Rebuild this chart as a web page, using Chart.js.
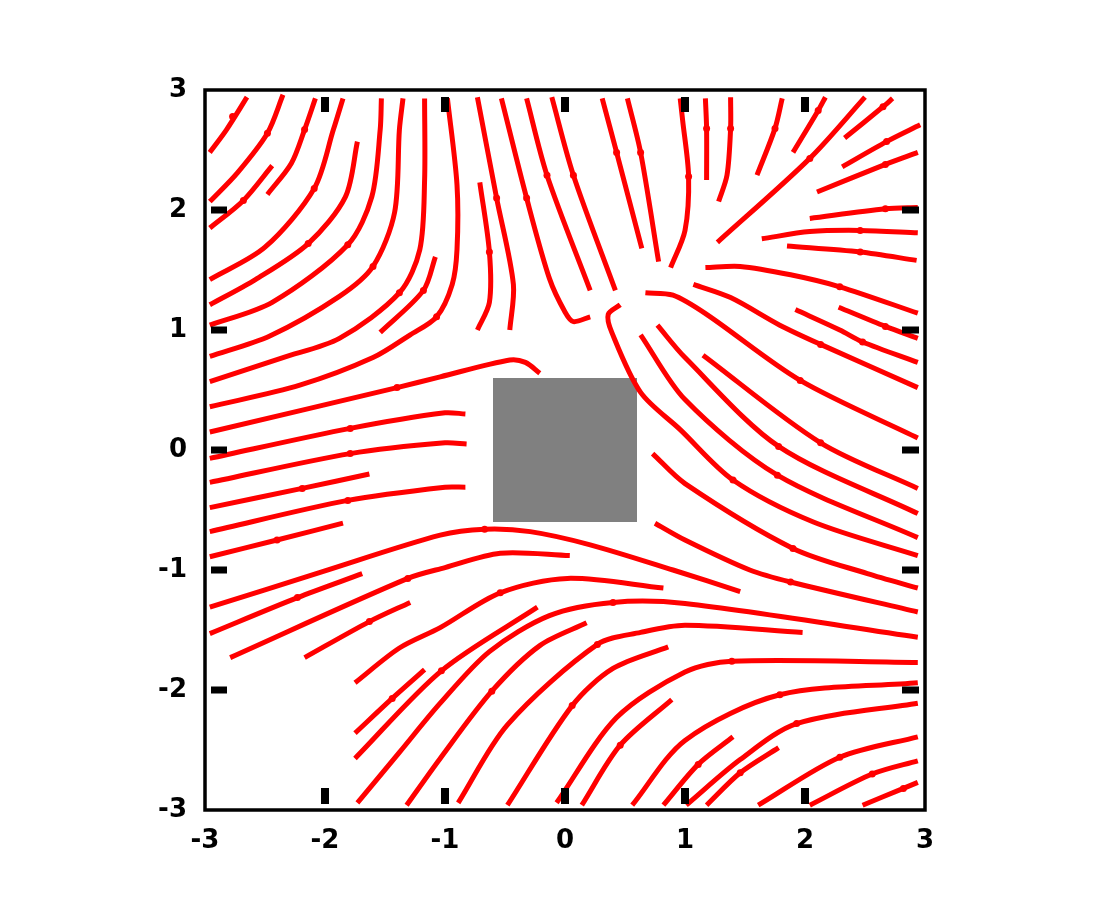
<!DOCTYPE html>
<html>
<head>
<meta charset="utf-8">
<script src="https://cdn.jsdelivr.net/npm/chart.js@4/dist/chart.umd.min.js"></script>
<style>
  body { margin: 0; background: #fff; }
  #wrap { width: 1100px; height: 900px; }
</style>
</head>
<body>
<div id="wrap"><canvas id="flow"></canvas></div>
<script>
// axis ticks
const tickValues = [-3, -2, -1, 0, 1, 2, 3];
const tickLabels = ['-3', '-2', '-1', '0', '1', '2', '3'];
const innerTicks = [-2, -1, 0, 1, 2];

// gray obstacle: xmin, xmax, ymin, ymax
const obstacle = [-0.6, 0.6, -0.6, 0.6];

// streamlines, each one a flat list x1,y1,x2,y2,...
const streamlines = [
  [-2.96,2.48, -2.82,2.67, -2.65,2.94],
  [-2.96,2.07, -2.73,2.31, -2.48,2.64, -2.35,2.96],
  [-2.96,1.85, -2.68,2.08, -2.44,2.37],
  [-2.48,2.13, -2.28,2.39, -2.17,2.67, -2.08,2.93],
  [-2.96,1.42, -2.5,1.69, -2.09,2.18, -1.93,2.67, -1.85,2.93],
  [-2.96,1.21, -2.58,1.42, -2.14,1.72, -1.83,2.11, -1.73,2.57],
  [-2.96,1.04, -2.44,1.23, -1.81,1.71, -1.61,2.11, -1.54,2.67, -1.53,2.93],
  [-2.96,0.78, -2.46,0.95, -1.88,1.28, -1.6,1.53, -1.42,1.98, -1.38,2.67, -1.35,2.93],
  [-2.96,0.57, -2.35,0.77, -1.88,0.93, -1.38,1.31, -1.21,1.67, -1.17,2.25, -1.17,2.93],
  [-1.54,0.98, -1.18,1.33, -1.08,1.61],
  [-2.96,0.36, -2.21,0.54, -1.6,0.77, -1.29,0.96, -1.07,1.11, -0.94,1.38, -0.9,1.67, -0.9,2.21, -0.98,2.93],
  [-2.96,0.15, -1.4,0.52, -1.04,0.61, -0.46,0.75, -0.33,0.73, -0.21,0.64],
  [-2.96,-0.07, -1.79,0.18, -1.0,0.31, -0.83,0.3],
  [-2.96,-0.27, -1.79,-0.03, -1.0,0.06, -0.82,0.05],
  [-2.96,-0.48, -2.19,-0.32, -1.63,-0.2],
  [-2.96,-0.68, -1.81,-0.42, -1.0,-0.31, -0.83,-0.31],
  [-2.96,-0.89, -2.4,-0.75, -1.85,-0.61],
  [-2.96,-1.31, -2.04,-1.02, -1.04,-0.71, -0.67,-0.66, -0.29,-0.68, 0.21,-0.79, 0.9,-1.0, 1.46,-1.18],
  [-2.96,-1.53, -2.23,-1.23, -1.69,-1.03],
  [-2.79,-1.73, -1.31,-1.07, -1.0,-0.98, -0.54,-0.86, 0.04,-0.88],
  [-2.17,-1.73, -1.63,-1.43, -1.29,-1.27],
  [-1.75,-1.94, -1.38,-1.65, -1.04,-1.48, -0.54,-1.19, 0.02,-1.07, 0.82,-1.15],
  [-1.75,-2.36, -1.44,-2.07, -1.17,-1.83],
  [-1.75,-2.57, -1.03,-1.84, -0.23,-1.31],
  [-1.73,-2.94, -1.38,-2.52, -1.04,-2.11, -0.63,-1.68, -0.13,-1.38, 0.4,-1.27, 1.0,-1.28, 2.94,-1.56],
  [-1.32,-2.96, -1.04,-2.57, -0.61,-2.01, -0.21,-1.63, 0.18,-1.44],
  [-0.89,-2.94, -0.48,-2.29, 0.27,-1.62, 0.63,-1.52, 1.0,-1.46, 1.98,-1.52],
  [-0.48,-2.96, 0.06,-2.13, 0.4,-1.82, 0.86,-1.64],
  [-0.07,-2.94, 0.43,-2.23, 1.0,-1.85, 1.39,-1.76, 2.94,-1.77],
  [0.14,-2.96, 0.46,-2.46, 0.89,-2.08],
  [0.56,-2.96, 1.0,-2.42, 1.79,-2.04, 2.94,-1.94],
  [0.82,-2.96, 1.11,-2.62, 1.4,-2.39],
  [1.01,-2.96, 1.46,-2.58, 1.93,-2.28, 2.94,-2.11],
  [1.18,-2.96, 1.46,-2.69, 1.78,-2.48],
  [1.61,-2.96, 2.29,-2.56, 2.94,-2.39],
  [2.04,-2.96, 2.56,-2.7, 2.94,-2.59],
  [2.48,-2.96, 2.82,-2.82, 2.94,-2.77],
  [0.75,-0.61, 1.0,-0.75, 1.54,-1.0, 1.88,-1.1, 2.94,-1.35],
  [0.73,-0.03, 1.0,-0.28, 1.9,-0.82, 2.52,-1.03, 2.94,-1.15],
  [0.46,1.21, 0.36,1.13, 0.39,0.98, 0.63,0.48, 0.96,0.17, 1.4,-0.25, 2.07,-0.6, 2.94,-0.88],
  [0.63,0.96, 1.0,0.42, 1.77,-0.21, 2.94,-0.73],
  [0.77,1.04, 1.0,0.77, 1.78,0.03, 2.94,-0.53],
  [1.15,0.79, 2.13,0.06, 2.94,-0.32],
  [0.67,1.31, 0.9,1.29, 1.18,1.13, 1.96,0.58, 2.94,0.1],
  [1.07,1.38, 1.38,1.27, 1.79,1.04, 2.13,0.88, 2.94,0.52],
  [1.92,1.17, 2.29,1.0, 2.48,0.9, 2.94,0.73],
  [2.28,1.19, 2.67,1.03, 2.94,0.93],
  [1.17,1.52, 1.46,1.53, 1.88,1.46, 2.29,1.36, 2.94,1.14],
  [1.85,1.7, 2.46,1.65, 2.93,1.58],
  [1.64,1.76, 2.04,1.82, 2.46,1.83, 2.94,1.81],
  [2.04,1.93, 2.67,2.01, 2.94,2.02],
  [2.1,2.15, 2.67,2.38, 2.94,2.48],
  [2.31,2.36, 2.68,2.57, 2.96,2.71],
  [2.33,2.6, 2.65,2.86, 2.73,2.93],
  [1.27,1.73, 2.04,2.43, 2.5,2.94],
  [1.9,2.48, 2.11,2.83, 2.17,2.94],
  [1.6,2.29, 1.75,2.68, 1.81,2.93],
  [1.28,2.07, 1.35,2.29, 1.38,2.68, 1.38,2.94],
  [1.17,2.93, 1.18,2.68, 1.18,2.25],
  [0.96,2.93, 0.98,2.75, 1.03,2.28, 1.0,1.83, 0.88,1.52],
  [0.52,2.93, 0.63,2.48, 0.78,1.57],
  [0.31,2.93, 0.43,2.48, 0.64,1.68],
  [-0.11,2.94, 0.07,2.29, 0.42,1.33],
  [-0.32,2.93, -0.15,2.29, 0.21,1.33],
  [-0.53,2.93, -0.32,2.1, -0.13,1.43, 0.0,1.15, 0.07,1.07, 0.21,1.11],
  [-0.73,2.94, -0.57,2.1, -0.43,1.38, -0.46,1.0],
  [-0.71,2.23, -0.63,1.65, -0.63,1.23, -0.73,1.0]
];

// small arrow marks along the lines, flat x,y pairs
const arrowMarks = [
  -2.77,2.78, -2.48,2.64, -2.68,2.08, -2.17,2.67, -2.09,2.18, -2.14,1.72, -1.81,1.71,
  -1.6,1.53, -1.38,1.31, -1.18,1.33, -1.07,1.11, -1.4,0.52, -1.79,0.18, -1.79,-0.03,
  -2.19,-0.32, -1.81,-0.42, -2.4,-0.75, -0.67,-0.66, -2.23,-1.23, -1.31,-1.07,
  -1.63,-1.43, -0.54,-1.19, -1.44,-2.07, -1.03,-1.84, 0.4,-1.27, -0.61,-2.01,
  0.27,-1.62, 0.06,-2.13, 1.39,-1.76, 0.46,-2.46, 1.79,-2.04, 1.11,-2.62, 1.93,-2.28,
  1.46,-2.69, 2.29,-2.56, 2.56,-2.7, 2.82,-2.82,
  1.88,-1.1, 1.9,-0.82, 1.4,-0.25, 1.77,-0.21, 1.78,0.03, 2.13,0.06, 1.96,0.58,
  2.13,0.88, 2.48,0.9, 2.67,1.03, 2.29,1.36, 2.46,1.65, 2.46,1.83, 2.67,2.01,
  2.67,2.38, 2.68,2.57, 2.65,2.86, 2.04,2.43, 2.11,2.83, 1.75,2.68, 1.38,2.68,
  1.18,2.68, 1.03,2.28, 0.63,2.48, 0.43,2.48, 0.07,2.29, -0.15,2.29, -0.32,2.1,
  -0.57,2.1, -0.63,1.65
];

function toPoints(flat) {
  const pts = [];
  for (let i = 0; i < flat.length; i += 2) {
    pts.push({x: flat[i], y: flat[i + 1]});
  }
  return pts;
}

const datasets = streamlines.map(function (line) {
  return {
    data: toPoints(line),
    showLine: true,
    borderColor: '#ff0000',
    borderWidth: 5,
    borderCapStyle: 'butt',
    pointRadius: 0,
    tension: 0.3
  };
});
datasets.push({
  data: toPoints(arrowMarks),
  showLine: false,
  pointRadius: 3.5,
  pointBackgroundColor: '#ff0000',
  pointBorderWidth: 0
});

const frameAndTicks = {
  id: 'frameAndTicks',
  beforeDatasetsDraw(chart) {
    const {ctx, scales: {x, y}} = chart;
    const x0 = x.getPixelForValue(obstacle[0]);
    const x1 = x.getPixelForValue(obstacle[1]);
    const y0 = y.getPixelForValue(obstacle[3]);
    const y1 = y.getPixelForValue(obstacle[2]);
    ctx.save();
    ctx.fillStyle = '#808080';
    ctx.fillRect(x0, y0, x1 - x0, y1 - y0);
    ctx.restore();
  },
  afterDatasetsDraw(chart) {
    const {ctx, chartArea: a, scales: {x, y}} = chart;
    ctx.save();
    ctx.fillStyle = '#000';
    innerTicks.forEach(function (v) {
      const px = x.getPixelForValue(v);
      ctx.fillRect(px - 4, a.top + 7, 8, 15);
      ctx.fillRect(px - 4, a.bottom - 22, 8, 16);
      const py = y.getPixelForValue(v);
      ctx.fillRect(a.left + 6, py - 3.5, 16, 7);
      ctx.fillRect(a.right - 23, py - 3.5, 17, 7);
    });
    ctx.strokeStyle = '#000';
    ctx.lineWidth = 3.5;
    ctx.strokeRect(a.left, a.top, a.right - a.left, a.bottom - a.top);
    ctx.restore();
  }
};

const tickFont = {family: '"DejaVu Sans"', size: 26, weight: 'bold'};

new Chart(document.getElementById('flow'), {
  type: 'scatter',
  data: {datasets: datasets},
  options: {
    responsive: true,
    maintainAspectRatio: false,
    animation: false,
    layout: {padding: {left: 0, top: 90, right: 175, bottom: 0}},
    plugins: {legend: {display: false}, tooltip: {enabled: false}},
    scales: {
      x: {
        min: -3, max: 3,
        afterFit(scale) { scale.height = 90; },
        afterBuildTicks(scale) { scale.ticks = tickValues.map(v => ({value: v})); },
        grid: {display: false},
        border: {display: false},
        ticks: {
          color: '#000', font: tickFont, padding: 8,
          callback: (v) => tickLabels[tickValues.indexOf(v)]
        }
      },
      y: {
        min: -3, max: 3,
        afterFit(scale) { scale.width = 205; },
        afterBuildTicks(scale) { scale.ticks = tickValues.map(v => ({value: v})); },
        grid: {display: false},
        border: {display: false},
        ticks: {
          color: '#000', font: tickFont, padding: 10,
          callback: (v) => tickLabels[tickValues.indexOf(v)]
        }
      }
    }
  },
  plugins: [frameAndTicks]
});
</script>
</body>
</html>
